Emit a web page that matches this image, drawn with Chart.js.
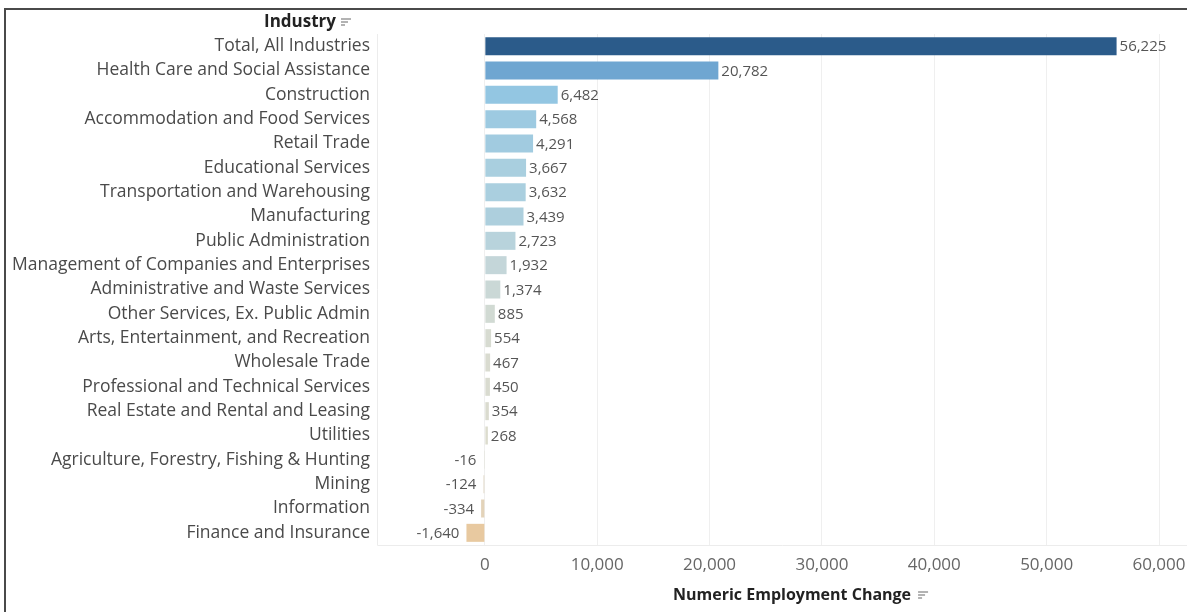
<!DOCTYPE html>
<html>
<head>
<meta charset="utf-8">
<script src="https://cdn.jsdelivr.net/npm/chart.js@4"></script>
<style>
  html, body { margin: 0; padding: 0; background: #fff; }
  #chart { display: block; }
</style>
</head>
<body>
<canvas id="chart" width="1187" height="612"></canvas>
<script>
// Employment change by industry
const industries = [
    'Total, All Industries',
    'Health Care and Social Assistance',
    'Construction',
    'Accommodation and Food Services',
    'Retail Trade',
    'Educational Services',
    'Transportation and Warehousing',
    'Manufacturing',
    'Public Administration',
    'Management of Companies and Enterprises',
    'Administrative and Waste Services',
    'Other Services, Ex. Public Admin',
    'Arts, Entertainment, and Recreation',
    'Wholesale Trade',
    'Professional and Technical Services',
    'Real Estate and Rental and Leasing',
    'Utilities',
    'Agriculture, Forestry, Fishing & Hunting',
    'Mining',
    'Information',
    'Finance and Insurance'
];

const employmentChange = [
    56225, 20782, 6482, 4568, 4291, 3667, 3632, 3439, 2723, 1932,
    1374, 885, 554, 467, 450, 354, 268, -16, -124, -334, -1640
];

const tickValues = [0, 10000, 20000, 30000, 40000, 50000, 60000];

// diverging blue -> grey -> tan, one per bar
const barColors = [
    '#2b5b8a', '#6fa6d1', '#93c6e2', '#9dcae1', '#a1cbe0', '#a9cfdf', '#aacfdf',
    '#adcfdd', '#b8d3dc', '#c4d6d9', '#cad8d6', '#d1dad3', '#d7dbd1', '#d9dbd0',
    '#d9dbd0', '#dadbcf', '#dcdcce', '#dedcce', '#e0d8c6', '#e3d3b9', '#e8c9a0'
];

const fmt = v => v.toLocaleString('en-US');
const FONT = '"Open Sans", "Noto Sans", sans-serif';

function sortIcon(ctx, x, y) {
    ctx.save();
    ctx.strokeStyle = '#8a8a8a';
    ctx.lineWidth = 1.3;
    [10, 7, 4].forEach((w, i) => {
        ctx.beginPath();
        ctx.moveTo(x, y + i * 3);
        ctx.lineTo(x + w, y + i * 3);
        ctx.stroke();
    });
    ctx.restore();
}

const decorations = {
    id: 'decorations',
    beforeDraw(chart) {
        const { ctx, chartArea } = chart;
        ctx.save();
        // outer frame
        ctx.strokeStyle = '#4a4a4a';
        ctx.lineWidth = 2;
        ctx.beginPath();
        ctx.moveTo(5, 612);
        ctx.lineTo(5, 9);
        ctx.lineTo(1187, 9);
        ctx.stroke();
        // plot frame, left and bottom
        ctx.strokeStyle = '#ececec';
        ctx.lineWidth = 1;
        ctx.beginPath();
        ctx.moveTo(chartArea.left + 0.5, chartArea.top);
        ctx.lineTo(chartArea.left + 0.5, chartArea.bottom + 0.5);
        ctx.lineTo(chartArea.right + 28, chartArea.bottom + 0.5);
        ctx.stroke();
        ctx.restore();
    },
    afterDraw(chart) {
        const { ctx } = chart;
        ctx.save();
        ctx.fillStyle = '#222';
        ctx.font = 'bold 17px ' + FONT;
        ctx.textBaseline = 'middle';
        ctx.textAlign = 'right';
        ctx.fillText('Industry', 336, 22);
        sortIcon(ctx, 341, 19);

        ctx.font = 'bold 16px ' + FONT;
        ctx.textAlign = 'left';
        ctx.fillText('Numeric Employment Change', 673, 595);
        const w = ctx.measureText('Numeric Employment Change').width;
        sortIcon(ctx, 673 + w + 7, 592);
        ctx.restore();
    },
    afterDatasetsDraw(chart) {
        const { ctx } = chart;
        const meta = chart.getDatasetMeta(0);
        ctx.save();
        ctx.font = '15px ' + FONT;
        ctx.fillStyle = '#555';
        ctx.textBaseline = 'middle';
        meta.data.forEach((bar, i) => {
            const v = employmentChange[i];
            if (v >= 0) {
                ctx.textAlign = 'left';
                ctx.fillText(fmt(v), Math.max(bar.x, bar.base + 2) + 3, bar.y + 1);
            } else {
                ctx.textAlign = 'right';
                ctx.fillText(fmt(v), Math.min(bar.x, bar.base - 1) - 7, bar.y + 1);
            }
        });
        ctx.restore();
    }
};

new Chart(document.getElementById('chart').getContext('2d'), {
    type: 'bar',
    data: {
        labels: industries,
        datasets: [{
            label: 'Numeric Employment Change',
            data: employmentChange,
            backgroundColor: barColors,
            borderWidth: 0,
            barPercentage: 0.74,
            categoryPercentage: 1.0
        }]
    },
    options: {
        indexAxis: 'y',
        responsive: false,
        animation: false,
        layout: { padding: { top: 34, right: 28, left: 0, bottom: 0 } },
        plugins: {
            legend: { display: false },
            tooltip: { enabled: false }
        },
        scales: {
            x: {
                type: 'linear',
                min: -9600,
                max: 60000,
                afterBuildTicks(scale) {
                    scale.ticks = tickValues.map(v => ({ value: v }));
                },
                afterFit(scale) {
                    scale.height = 67;
                    scale.paddingLeft = 0;
                    scale.paddingRight = 0;
                },
                grid: {
                    color: '#efefef',
                    drawTicks: false
                },
                border: { display: false },
                ticks: {
                    padding: 10,
                    maxRotation: 0,
                    color: '#666',
                    font: { family: FONT, size: 17 },
                    callback: v => fmt(v)
                }
            },
            y: {
                afterFit(scale) {
                    scale.width = 377;
                    scale.paddingTop = 0;
                    scale.paddingBottom = 0;
                },
                grid: { display: false, drawTicks: false },
                border: { display: false },
                ticks: {
                    padding: 7,
                    autoSkip: false,
                    color: '#4a4a4a',
                    font: { family: FONT, size: 17.5 }
                }
            }
        }
    },
    plugins: [decorations]
});
</script>
</body>
</html>
